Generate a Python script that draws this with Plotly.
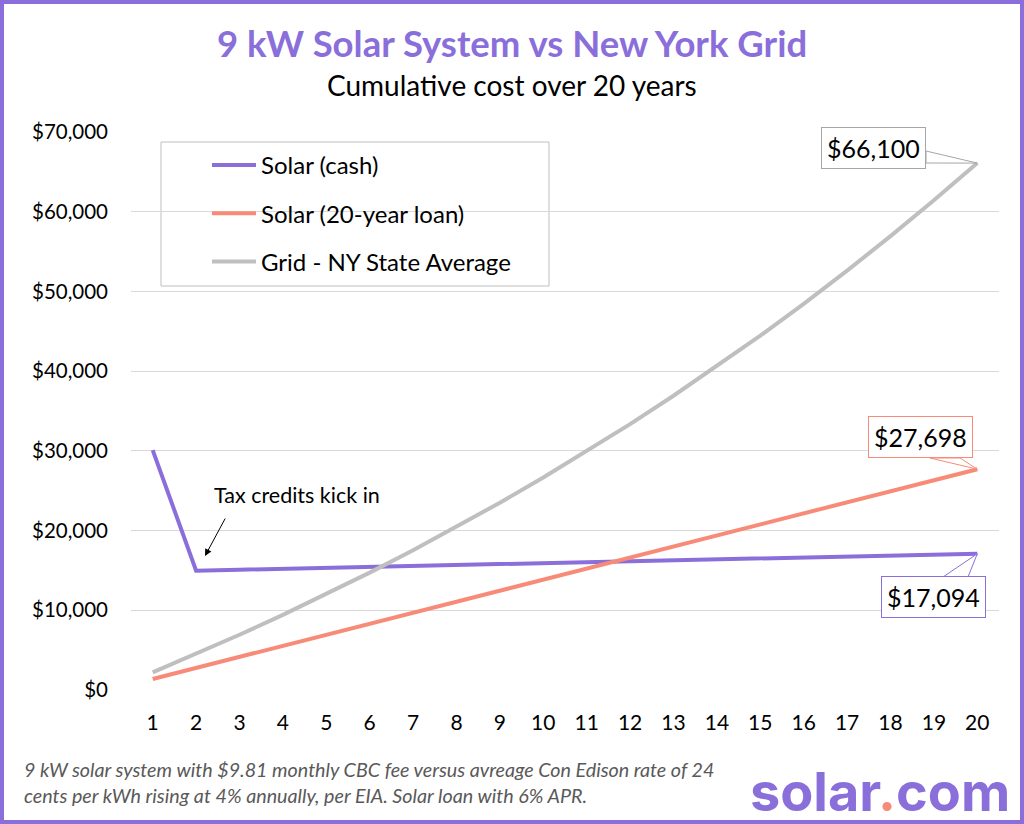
import plotly.graph_objects as go

years = list(range(1, 21))
solar_cash = [30100, 14975, 15093, 15210, 15328, 15446, 15563, 15681, 15799, 15917,
              16034, 16152, 16270, 16387, 16505, 16623, 16740, 16858, 16976, 17094]
solar_loan = [1385, 2770, 4155, 5540, 6925, 8309, 9694, 11079, 12464, 13849,
              15234, 16619, 18004, 19389, 20774, 22158, 23543, 24928, 26313, 27698]
grid = [2220, 4529, 6930, 9427, 12024, 14725, 17534, 20456, 23494, 26654,
        29940, 33357, 36912, 40608, 44452, 48450, 52608, 56933, 61430, 66100]
series_names = ["Solar (cash)", "Solar (20-year loan)", "Grid - NY State Average"]
y_ticks = [0, 10000, 20000, 30000, 40000, 50000, 60000, 70000]
y_tick_labels = ["$0", "$10,000", "$20,000", "$30,000", "$40,000", "$50,000", "$60,000", "$70,000"]

PURPLE = "#8A6FDB"
SALMON = "#F88B78"
GRAY = "#BFBFBF"
FONT = "Source Sans Pro, Lato, sans-serif"

L, R, T, B = 131, 999, 132, 690
W, H = R - L, B - T
YMAX = 70000


def pxx(px):
    return (px - L) / W


def pxy(py):
    return (B - py) / H


def dx(px):
    return 0.5 + (px - L) / W * 20


def dy(py):
    return (B - py) / H * YMAX


fig = go.Figure()
for i, (name, vals, col) in enumerate(zip(series_names, [solar_cash, solar_loan, grid],
                                           [PURPLE, SALMON, GRAY])):
    fig.add_trace(go.Scatter(x=years, y=vals, mode="lines", name=name,
                             line=dict(color=col, width=4), legendgroup=f"g{i}"))

shapes = []
# outer border
shapes.append(dict(type="rect", xref="paper", yref="paper",
                   x0=pxx(2), x1=pxx(1022), y0=pxy(822), y1=pxy(2),
                   line=dict(color=PURPLE, width=4), layer="above"))
# legend box
shapes.append(dict(type="rect", xref="paper", yref="paper",
                   x0=pxx(161), x1=pxx(549), y0=pxy(286), y1=pxy(142),
                   line=dict(color="#BFBFBF", width=1), fillcolor="white", layer="below"))


def tail(p1, p2, xv, yv, col):
    return dict(type="path", xref="x", yref="y",
                path=f"M {dx(p1[0])},{dy(p1[1])} L {xv},{yv} L {dx(p2[0])},{dy(p2[1])} Z",
                line=dict(color=col, width=1), fillcolor="white", layer="above")


shapes.append(tail((926, 151), (926, 163), years[-1], grid[-1], "#A6A6A6"))
shapes.append(tail((930, 458), (960, 458), years[-1], solar_loan[-1], SALMON))
shapes.append(tail((943, 577), (968, 577), years[-1], solar_cash[-1], PURPLE))

annotations = []
annotations.append(dict(xref="paper", yref="paper", x=pxx(512), y=pxy(43),
                        text="<b>9 kW Solar System vs New York Grid</b>", showarrow=False,
                        font=dict(family=FONT, size=36.5, color=PURPLE),
                        xanchor="center", yanchor="middle"))
annotations.append(dict(xref="paper", yref="paper", x=pxx(512), y=pxy(85),
                        text="Cumulative cost over 20 years", showarrow=False,
                        font=dict(family=FONT, size=28, color="black"),
                        xanchor="center", yanchor="middle"))


def label(text, cx, cy, col):
    return dict(xref="paper", yref="paper", x=pxx(cx), y=pxy(cy), text=text,
                showarrow=False, font=dict(family=FONT, size=25, color="black"),
                bgcolor="white", bordercolor=col, borderwidth=1, borderpad=5,
                xanchor="center", yanchor="middle")


annotations.append(label(f"${grid[-1]:,}", 873, 148, "#A6A6A6"))
annotations.append(label(f"${solar_loan[-1]:,}", 920, 437, SALMON))
annotations.append(label(f"${solar_cash[-1]:,}", 933, 597, PURPLE))

annotations.append(dict(xref="paper", yref="paper", x=pxx(212), y=pxy(495),
                        text="Tax credits kick in", showarrow=False,
                        font=dict(family=FONT, size=21.5, color="black"),
                        xanchor="left", yanchor="middle"))
annotations.append(dict(xref="x", yref="y", x=dx(205), y=dy(556), text="",
                        showarrow=True, arrowhead=2, arrowsize=1.4, arrowwidth=1,
                        arrowcolor="black", axref="pixel", ayref="pixel", ax=21, ay=-39))

annotations.append(dict(xref="paper", yref="paper", x=pxx(22), y=pxy(782),
                        text="<i>9 kW solar system with $9.81 monthly CBC fee versus avreage Con Edison rate of 24<br>"
                             "cents per kWh rising at 4% annually, per EIA. Solar loan with 6% APR.</i>",
                        showarrow=False, align="left",
                        font=dict(family=FONT, size=19.7, color="#595959"),
                        xanchor="left", yanchor="middle"))
annotations.append(dict(xref="paper", yref="paper", x=pxx(1012), y=pxy(791),
                        text="<b>solar<span style='color:#F88B78'>.</span>com</b>",
                        showarrow=False,
                        font=dict(family="Inter, Roboto, sans-serif", size=54, color=PURPLE),
                        xanchor="right", yanchor="middle"))

fig.update_layout(
    width=1024, height=824,
    margin=dict(l=L, r=1024 - R, t=T, b=824 - B),
    paper_bgcolor="white", plot_bgcolor="white",
    font=dict(family=FONT, size=22, color="black"),
    showlegend=True,
    legend=dict(x=pxx(207), y=pxy(143), xanchor="left", yanchor="top",
                bgcolor="rgba(0,0,0,0)", borderwidth=0, itemwidth=44,
                tracegroupgap=14, font=dict(family=FONT, size=24, color="black")),
    shapes=shapes, annotations=annotations,
    xaxis=dict(range=[0.5, 20.5], tickmode="array", tickvals=years,
               ticktext=[str(y) for y in years], showgrid=False, zeroline=False,
               showline=False, ticks="", ticklabelstandoff=18, tickfont=dict(size=21)),
    yaxis=dict(range=[0, YMAX], tickmode="array", tickvals=y_ticks,
               ticktext=y_tick_labels, showgrid=True, gridcolor="#D9D9D9",
               gridwidth=1, zeroline=False, showline=False, ticks="",
               ticklabelstandoff=22, tickfont=dict(size=20.5)),
)

fig.write_html("out.html")
